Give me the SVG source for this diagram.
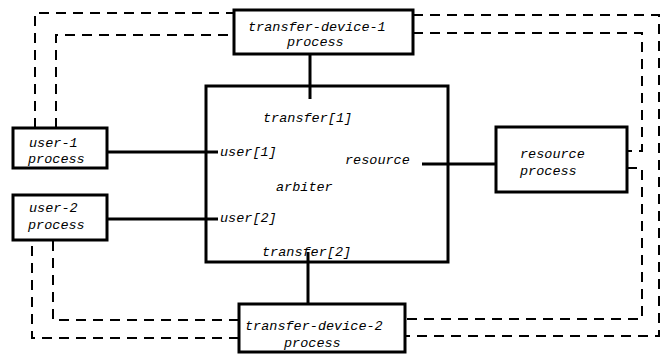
<svg xmlns="http://www.w3.org/2000/svg" width="665" height="354" viewBox="0 0 665 354">
<style>
.box{fill:#fff;stroke:#000;stroke-width:3}
.con{stroke:#000;stroke-width:3;fill:none}
.dash{stroke:#000;stroke-width:2;fill:none;stroke-dasharray:10 7}
text{font-family:"Liberation Mono","DejaVu Sans Mono",monospace;font-style:italic;font-size:13.5px;fill:#000}
</style>
<rect width="665" height="354" fill="#fff"/>
<g id="connectors">
<path class="dash" d="M35,128 V13 H234"/>
<path class="dash" d="M413,15 H659 V336 H405"/>
<path class="dash" d="M239,338 H32 V240"/>
<path class="dash" d="M56,128 V35 H234"/>
<path class="dash" d="M413,33 H642 V151 H627"/>
<path class="dash" d="M627,168 H642 V319 H405"/>
<path class="dash" d="M239,320 H53 V240"/>
<line class="con" x1="310" y1="54" x2="310" y2="99"/>
<line class="con" x1="308" y1="252" x2="308" y2="303"/>
<line class="con" x1="103" y1="152" x2="218" y2="152"/>
<line class="con" x1="100" y1="219" x2="218" y2="219"/>
<line class="con" x1="422" y1="164" x2="507" y2="164"/>
</g>
<g id="arbiter">
<rect class="box" x="206" y="86" width="242" height="176" fill="none" style="fill:none"/>
<text x="263" y="122">transfer[1]</text>
<text x="220" y="156">user[1]</text>
<text x="345" y="164">resource</text>
<text x="276" y="191">arbiter</text>
<text x="220" y="222">user[2]</text>
<text x="262" y="256">transfer[2]</text>
</g>
<g id="transfer-device-1">
<rect class="box" x="234" y="10" width="179" height="44"/>
<text x="248" y="31">transfer-device-1</text>
<text x="287" y="46">process</text>
</g>
<g id="transfer-device-2">
<rect class="box" x="239" y="304" width="166" height="48"/>
<text x="245" y="330">transfer-device-2</text>
<text x="284" y="347">process</text>
</g>
<g id="user-1">
<rect class="box" x="13" y="128" width="94" height="40"/>
<text x="29" y="147">user-1</text>
<text x="28" y="163">process</text>
</g>
<g id="user-2">
<rect class="box" x="13" y="195" width="94" height="45"/>
<text x="29" y="212">user-2</text>
<text x="28" y="229">process</text>
</g>
<g id="resource">
<rect class="box" x="496" y="127" width="131" height="65"/>
<text x="520" y="158">resource</text>
<text x="520" y="175">process</text>
</g>
</svg>
